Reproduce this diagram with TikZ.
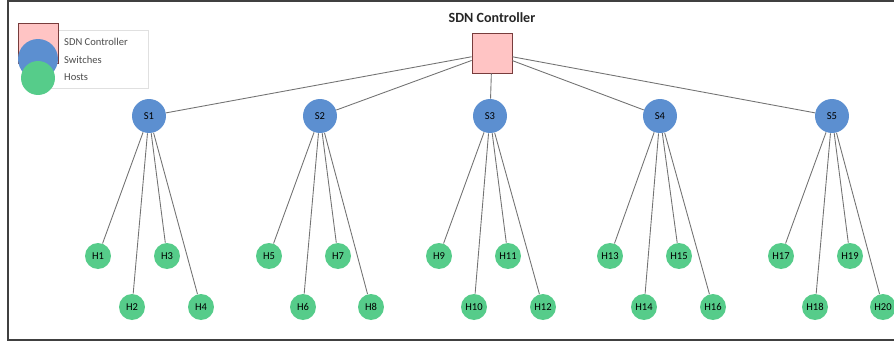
\documentclass[tikz,border=0pt]{standalone}
\usepackage{fontspec}
\setmainfont{Carlito}
\definecolor{ctrlfill}{RGB}{255,196,196}
\definecolor{ctrledge}{RGB}{120,60,60}
\definecolor{swfill}{RGB}{92,143,208}
\definecolor{hostfill}{RGB}{86,204,138}
\tikzset{
	ctrl/.style={draw=ctrledge, fill=ctrlfill, minimum size=0.8cm, inner sep=0pt},
	switch/.style={circle, fill=swfill, minimum size=0.68cm, inner sep=0pt, font=\fontsize{6}{6}\selectfont},
	host/.style={circle, fill=hostfill, minimum size=0.52cm, inner sep=0pt, font=\fontsize{6}{6}\selectfont},
	link/.style={draw=black!55, line width=0.5pt}
}
\begin{document}
\begin{tikzpicture}[x=0.02cm, y=-0.02cm]
	\useasboundingbox (0,0) rectangle (894,345);
	\draw [black!75, line width=1pt] (894,1) -- (8,1) -- (8,340) -- (894,340);
	% legend
	\draw [black!12, fill=white] (50,30) rectangle (148,88);
	\node[ctrl, minimum size=0.8cm] (legctrl) at (38,43) {};
	\node[circle, fill=swfill, minimum size=0.8cm] (legsw) at (38,59) {};
	\node[circle, fill=hostfill, minimum size=0.68cm] (leghost) at (38,78) {};
	\node[anchor=west, font=\fontsize{6}{6}\selectfont, text=black!70] (legtxtctrl) at (58,42) {SDN Controller};
	\node[anchor=west, font=\fontsize{6}{6}\selectfont, text=black!70] (legtxtsw) at (58,60) {Switches};
	\node[anchor=west, font=\fontsize{6}{6}\selectfont, text=black!70] (legtxthost) at (58,77) {Hosts};
	% controller
	\node[ctrl] (ctrl) at (492,53) {};
	\node[font=\bfseries\fontsize{8}{8}\selectfont, text=black!85] (ctrltitle) at (492,18) {SDN Controller};
	% switches
	\node[switch] (s1) at (149,116) {S1};
	\node[switch] (s2) at (320,116) {S2};
	\node[switch] (s3) at (490,116) {S3};
	\node[switch] (s4) at (660,116) {S4};
	\node[switch] (s5) at (832,116) {S5};
	% hosts
	\node[host] (h1) at (98,256) {H1};
	\node[host] (h2) at (132,307) {H2};
	\node[host] (h3) at (167,256) {H3};
	\node[host] (h4) at (201,307) {H4};
	\node[host] (h5) at (269,256) {H5};
	\node[host] (h6) at (303,307) {H6};
	\node[host] (h7) at (338,256) {H7};
	\node[host] (h8) at (371,307) {H8};
	\node[host] (h9) at (439,256) {H9};
	\node[host] (h10) at (474,307) {H10};
	\node[host] (h11) at (508,256) {H11};
	\node[host] (h12) at (543,307) {H12};
	\node[host] (h13) at (610,256) {H13};
	\node[host] (h14) at (644,307) {H14};
	\node[host] (h15) at (679,256) {H15};
	\node[host] (h16) at (713,307) {H16};
	\node[host] (h17) at (781,256) {H17};
	\node[host] (h18) at (815,307) {H18};
	\node[host] (h19) at (850,256) {H19};
	\node[host] (h20) at (883,307) {H20};
	% links
	\draw[link] (ctrl) -- (s1);
	\draw[link] (ctrl) -- (s2);
	\draw[link] (ctrl) -- (s3);
	\draw[link] (ctrl) -- (s4);
	\draw[link] (ctrl) -- (s5);
	\draw[link] (s1) -- (h1);
	\draw[link] (s1) -- (h2);
	\draw[link] (s1) -- (h3);
	\draw[link] (s1) -- (h4);
	\draw[link] (s2) -- (h5);
	\draw[link] (s2) -- (h6);
	\draw[link] (s2) -- (h7);
	\draw[link] (s2) -- (h8);
	\draw[link] (s3) -- (h9);
	\draw[link] (s3) -- (h10);
	\draw[link] (s3) -- (h11);
	\draw[link] (s3) -- (h12);
	\draw[link] (s4) -- (h13);
	\draw[link] (s4) -- (h14);
	\draw[link] (s4) -- (h15);
	\draw[link] (s4) -- (h16);
	\draw[link] (s5) -- (h17);
	\draw[link] (s5) -- (h18);
	\draw[link] (s5) -- (h19);
	\draw[link] (s5) -- (h20);
\end{tikzpicture}
\end{document}
